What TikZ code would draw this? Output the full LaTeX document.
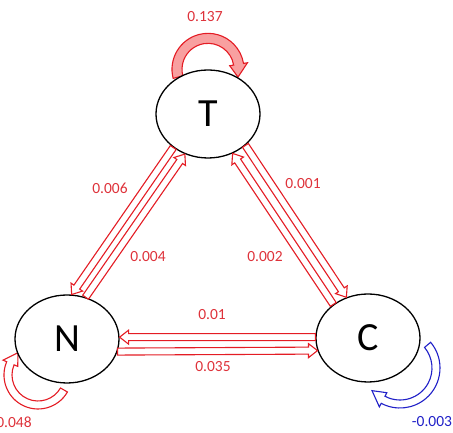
\documentclass[tikz,border=0pt]{standalone}
\usepackage{fontspec}
\setmainfont{Carlito}
\usetikzlibrary{calc,shapes.geometric,backgrounds}
\definecolor{flow}{RGB}{228,28,36}
\definecolor{flowfill}{RGB}{248,160,160}
\definecolor{rate}{RGB}{222,50,58}
\definecolor{neg}{RGB}{32,32,200}

% hollow straight arrow between two anchors
\newcommand\blockarrow[3][]{%
  \draw[flow,line width=1.1pt,fill=white,#1] let \p1=(#2), \p2=(#3),
    \n1={atan2(\y2-\y1,\x2-\x1)}, \n2={veclen(\x2-\x1,\y2-\y1)} in
    ($(\p1)+({\n1+90}:3.5)$) -- ($(\p1)+(\n1:{\n2-9})+({\n1+90}:3.5)$)
    -- ($(\p1)+(\n1:{\n2-9})+({\n1+90}:7)$) -- (\p2)
    -- ($(\p1)+(\n1:{\n2-9})+({\n1-90}:7)$) -- ($(\p1)+(\n1:{\n2-9})+({\n1-90}:3.5)$)
    -- ($(\p1)+({\n1-90}:3.5)$) -- cycle;}
% hollow curved arrow: centre, radius, start, head start, tip, half width, head half width
\newcommand\looparrow[8][]{%
  \draw[line width=1.1pt,#1] ($(#2)+(#4:#3+#7)$) arc[start angle=#4, end angle=#5, radius=#3+#7]
    -- ($(#2)+(#5:#3+#8)$) -- ($(#2)+(#6:#3)$) -- ($(#2)+(#5:#3-#8)$) -- ($(#2)+(#5:#3-#7)$)
    arc[start angle=#5, end angle=#4, radius=#3-#7] -- cycle;}

\tikzset{
  state/.style={ellipse, draw, line width=1.3pt, fill=white, minimum width=104pt, minimum height=88pt,
    inner sep=0pt, font=\fontsize{40}{48}\selectfont},
  rate/.style={text=rate, inner sep=0pt, font=\fontsize{15.5}{18}\selectfont}
}

\begin{document}
\begin{tikzpicture}[x=1pt,y=1pt]
  \useasboundingbox (0,0) rectangle (453,433);
  \node[state] (T) at (208,319) {T};
  \node[state] (N) at (67,94) {N};
  \node[state] (C) at (368,95) {C};
  \coordinate (Nloop) at ($(N.center)+(-29,-36)$);
  \coordinate (Cloop) at ($(C.center)+(32,-30)$);

  % self loops, behind the states
  \begin{scope}[on background layer]
    \looparrow[flow,fill=flowfill]{T.north}{31}{194.5}{9.5}{-14.5}{5}{9}
    \looparrow[flow,fill=white]{Nloop}{30}{-30}{-203}{-228}{4}{8}
    \looparrow[neg,fill=white]{Cloop}{36}{40}{-118}{-141}{4}{8}
  \end{scope}

  % flows between states
  \blockarrow{C.179}{N.2}
  \blockarrow{N.346.5}{C.194.5}
  \blockarrow{T.224}{N.84}
  \blockarrow{N.66}{T.240}
  \blockarrow{C.136}{T.302.4}
  \blockarrow{T.320}{C.118}

  \node[rate] (rTT) at (205,416) {0.137};
  \node[rate] (rTN) at (110,245) {0.006};
  \node[rate] (rNT) at (148,176) {0.004};
  \node[rate] (rTC) at (303,249) {0.001};
  \node[rate] (rCT) at (265,176) {0.002};
  \node[rate] (rCN) at (212,118) {0.01};
  \node[rate] (rNC) at (213,66) {0.035};
  \node[rate] (rNN) at (14,11) {0.048};
  \node[rate,text=neg] (rCC) at (432,11) {-0.003};
\end{tikzpicture}
\end{document}
